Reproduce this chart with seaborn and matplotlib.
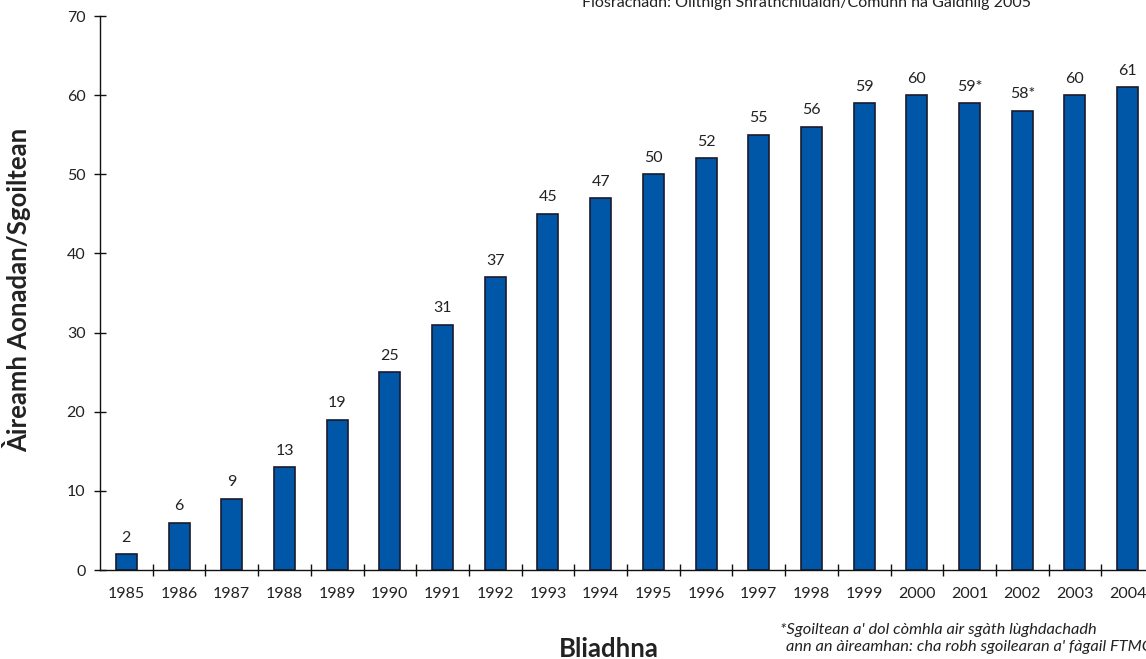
import matplotlib
matplotlib.use("Agg")
import matplotlib.pyplot as plt
import seaborn as sns
import pandas as pd
import numpy as np

years = ["1985", "1986", "1987", "1988", "1989", "1990", "1991", "1992", "1993", "1994",
         "1995", "1996", "1997", "1998", "1999", "2000", "2001", "2002", "2003", "2004"]
units = [2, 6, 9, 13, 19, 25, 31, 37, 45, 47, 50, 52, 55, 56, 59, 60, 59, 58, 60, 61]
value_labels = ["2", "6", "9", "13", "19", "25", "31", "37", "45", "47",
                "50", "52", "55", "56", "59", "60", "59*", "58*", "60", "61"]

sns.set_style("white")
plt.rcParams['font.family'] = ['Lato', 'DejaVu Sans']

df = pd.DataFrame({"year": years, "units": units})

fig = plt.figure(figsize=(11.46, 6.59), dpi=100)
ax = fig.add_axes([100/1146, 89/659, 1054/1146, 554/659])

sns.barplot(data=df, x="year", y="units", color="#0057A8", width=0.4,
            edgecolor="#1a1a2e", linewidth=1.2, saturation=1, ax=ax)

ax.set_xlim(-0.5, len(years) - 0.5)
ax.set_ylim(0, 70)
ax.set_yticks(range(0, 71, 10))
ax.set_xlabel("")
ax.set_ylabel("")

for i, (v, lab) in enumerate(zip(units, value_labels)):
    ax.text(i, v + 1.2, lab, ha="center", va="bottom", fontsize=11.5, color="#222222")

sns.despine(ax=ax)
for side in ("left", "bottom"):
    ax.spines[side].set_color("#111111")
    ax.spines[side].set_linewidth(1.0)

ax.tick_params(axis='x', which='major', bottom=True, length=0, labelsize=11.5, pad=12,
               colors="#222222")
ax.set_xticks(np.arange(0.5, len(years) - 0.5, 1.0), minor=True)
ax.tick_params(axis='x', which='minor', bottom=True, direction='inout', length=9, width=1,
               color="#111111")
ax.tick_params(axis='y', which='major', left=True, direction='inout', length=9, width=1,
               labelsize=11.5, pad=6, color="#111111", labelcolor="#222222")

fig.text(17/1146, 1 - 290/659, "Àireamh Aonadan/Sgoiltean", rotation=90, ha="center",
         va="center", fontsize=18.5, fontweight="bold", color="#222222")
fig.text(609/1146, 1 - 649/659, "Bliadhna", ha="center", va="center",
         fontsize=18.5, fontweight="bold", color="#222222")
fig.text(807/1146, 1 - 3/659, "Fiosrachadh: Oilthigh Shrathchluaidh/Comunn na Gàidhlig 2005",
         ha="center", va="center", fontsize=11.5, color="#222222")
fig.text(780/1146, 1 - 630/659, "*Sgoiltean a' dol còmhla air sgàth lùghdachadh",
         ha="left", va="center", fontsize=11.8, style="italic", color="#222222")
fig.text(786/1146, 1 - 647/659, "ann an àireamhan: cha robh sgoilearan a' fàgail FTMG",
         ha="left", va="center", fontsize=11.8, style="italic", color="#222222")

fig.savefig("out.png", dpi=100)
